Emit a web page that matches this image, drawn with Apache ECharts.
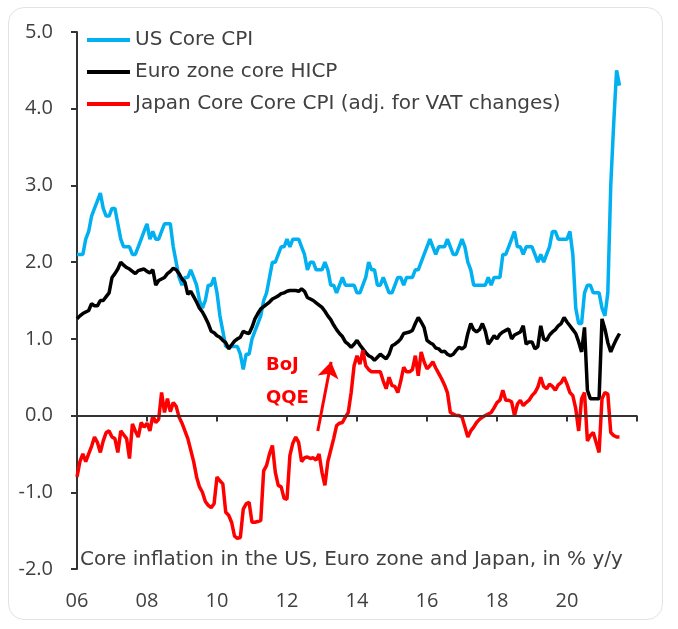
<!DOCTYPE html>
<html><head><meta charset="utf-8">
<script src="https://cdn.jsdelivr.net/npm/echarts@6/dist/echarts.min.js"></script>
<style>
html,body{margin:0;padding:0;background:#fff;}
#frame{position:absolute;left:8px;top:7px;width:655px;height:613px;border:1px solid #dfe4e9;border-radius:16px;box-sizing:border-box;}
#chart{position:absolute;left:0;top:0;width:678px;height:629px;}
</style></head><body>
<div id="frame"></div><div id="chart"></div>
<script>
const startYear = 2006;
const seriesNames = ['US Core CPI', 'Euro zone core HICP', 'Japan Core Core CPI (adj. for VAT changes)'];
const xTicks = [2006, 2008, 2010, 2012, 2014, 2016, 2018, 2020];
const xMin = 2006, xMax = 2022, xStep = 2;
const chartNote = 'Core inflation in the US, Euro zone and Japan, in % y/y';
const annotations = [{name: 'BoJ', x: 2011.4, y: 0.66}, {name: 'QQE', x: 2011.4, y: 0.23}];
const arrowFrom = [2012.88, -0.2];
const arrowTo = [2013.26, 0.70];

// monthly, Jan 2006 - Jul 2021
const usCore = [
 2.1,2.1,2.1,2.3,2.4,2.6,2.7,2.8,2.9,2.7,2.6,2.6,
 2.7,2.7,2.5,2.3,2.2,2.2,2.2,2.1,2.1,2.2,2.3,2.4,
 2.5,2.3,2.4,2.3,2.3,2.4,2.5,2.5,2.5,2.2,2.0,1.8,
 1.7,1.8,1.8,1.9,1.8,1.7,1.5,1.4,1.5,1.7,1.7,1.8,
 1.6,1.3,1.1,0.9,0.9,0.9,0.9,0.9,0.8,0.6,0.8,0.8,
 1.0,1.1,1.2,1.3,1.5,1.6,1.8,2.0,2.0,2.1,2.2,2.2,
 2.3,2.2,2.3,2.3,2.3,2.2,2.1,1.9,2.0,2.0,1.9,1.9,
 1.9,2.0,1.9,1.7,1.7,1.6,1.7,1.8,1.7,1.7,1.7,1.7,
 1.6,1.6,1.7,1.8,2.0,1.9,1.9,1.7,1.7,1.8,1.7,1.6,
 1.6,1.7,1.8,1.8,1.7,1.8,1.8,1.8,1.9,1.9,2.0,2.1,
 2.2,2.3,2.2,2.1,2.2,2.2,2.2,2.3,2.2,2.1,2.1,2.2,
 2.3,2.2,2.0,1.9,1.7,1.7,1.7,1.7,1.7,1.8,1.7,1.8,
 1.8,1.8,2.1,2.1,2.2,2.3,2.4,2.2,2.2,2.1,2.2,2.2,
 2.2,2.1,2.0,2.1,2.0,2.1,2.2,2.4,2.4,2.3,2.3,2.3,
 2.3,2.4,2.1,1.4,1.2,1.2,1.6,1.7,1.7,1.6,1.6,1.6,
 1.4,1.3,1.6,3.0,3.8,4.5,4.3
];
const euroCore = [
 1.26,1.30,1.33,1.35,1.37,1.46,1.43,1.43,1.50,1.50,1.55,1.60,
 1.80,1.85,1.91,2.00,1.96,1.93,1.91,1.88,1.85,1.89,1.90,1.91,
 1.88,1.86,1.90,1.70,1.76,1.78,1.80,1.85,1.88,1.92,1.90,1.85,
 1.78,1.74,1.58,1.62,1.55,1.48,1.40,1.35,1.28,1.20,1.10,1.08,
 1.04,1.02,0.98,0.95,0.87,0.92,0.97,1.00,1.02,1.10,1.08,1.07,
 1.15,1.26,1.33,1.39,1.42,1.45,1.48,1.52,1.54,1.56,1.59,1.60,
 1.62,1.63,1.63,1.63,1.62,1.65,1.62,1.54,1.52,1.50,1.47,1.44,
 1.41,1.36,1.30,1.25,1.18,1.12,1.07,1.03,0.96,0.93,0.89,0.93,
 0.98,0.92,0.87,0.82,0.78,0.76,0.72,0.76,0.80,0.77,0.74,0.80,
 0.91,0.93,0.96,1.00,1.07,1.08,1.09,1.11,1.20,1.28,1.22,1.15,
 0.98,0.95,0.93,0.88,0.87,0.83,0.84,0.80,0.78,0.80,0.85,0.89,
 0.87,0.90,1.07,1.20,1.12,1.09,1.12,1.20,1.10,0.93,0.98,1.04,
 1.00,1.06,1.09,1.11,1.13,1.00,1.05,1.07,1.09,1.17,0.93,0.96,
 0.96,0.87,0.90,1.17,1.00,0.98,1.05,1.09,1.12,1.17,1.20,1.28,
 1.22,1.17,1.12,1.07,0.96,0.83,1.15,0.33,0.22,0.22,0.22,0.22,
 1.26,1.13,0.95,0.83,0.92,1.00,1.07
];
const japanCore = [
 -0.80,-0.60,-0.50,-0.60,-0.50,-0.40,-0.28,-0.35,-0.48,-0.33,-0.22,-0.20,
 -0.28,-0.30,-0.48,-0.20,-0.25,-0.30,-0.56,-0.11,-0.20,-0.28,-0.09,-0.15,
 -0.10,-0.20,0.00,-0.09,-0.05,0.30,0.04,0.22,0.05,0.17,0.12,-0.02,
 -0.10,-0.20,-0.30,-0.45,-0.60,-0.80,-0.93,-1.00,-1.12,-1.17,-1.20,-1.15,
 -0.80,-0.85,-0.89,-1.26,-1.30,-1.39,-1.57,-1.60,-1.59,-1.22,-1.15,-1.13,
 -1.39,-1.39,-1.38,-1.37,-0.72,-0.65,-0.50,-0.39,-0.74,-0.91,-0.93,-1.08,
 -1.09,-0.52,-0.36,-0.28,-0.35,-0.60,-0.55,-0.54,-0.56,-0.55,-0.58,-0.50,
 -0.74,-0.91,-0.60,-0.45,-0.30,-0.13,-0.10,-0.09,-0.02,0.04,0.30,0.65,
 0.78,0.67,0.85,0.65,0.60,0.57,0.57,0.57,0.57,0.45,0.35,0.50,
 0.39,0.38,0.30,0.45,0.63,0.57,0.57,0.60,0.78,0.52,0.83,0.70,
 0.61,0.65,0.70,0.62,0.55,0.48,0.40,0.30,0.04,0.02,0.00,0.00,
 -0.02,-0.15,-0.28,-0.20,-0.15,-0.09,-0.05,-0.02,0.00,0.02,0.04,0.10,
 0.17,0.20,0.33,0.20,0.20,0.18,0.00,0.15,0.20,0.13,0.17,0.20,
 0.26,0.30,0.37,0.50,0.38,0.35,0.41,0.38,0.33,0.40,0.43,0.50,
 0.41,0.30,0.26,0.09,-0.20,0.22,0.30,-0.33,-0.26,-0.22,-0.35,-0.48,
 0.22,0.30,0.28,-0.22,-0.26,-0.28,-0.28
];

const FONT = 'DejaVu Sans';
const AXFONT = 'Open Sans';
const TXT = '#404040';
const AXIS = '#333333';
const TICK_LEN = 0.078; // ~6px below the zero line
function toPoints(arr){ return arr.map((v,i)=>[startYear + i/12, v]); }

// zero line with its tick marks, drawn in data space
const zeroAxisLines = [{yAxis: 0}];
for (let yr = xMin + xStep; yr <= xMax; yr += xStep) {
  zeroAxisLines.push([{coord: [yr, 0]}, {coord: [yr, -TICK_LEN]}]);
}

const chart = echarts.init(document.getElementById('chart'), null, {renderer:'canvas'});
chart.setOption({
  animation: false,
  backgroundColor: 'transparent',
  textStyle: {fontFamily: AXFONT},
  grid: {left: 77, right: 41, top: 32, bottom: 60, containLabel: false},
  title: {text: chartNote, left: 75, top: 545,
    textStyle: {fontFamily: FONT, fontSize: 20, fontWeight: 'normal', color: TXT}},
  legend: {
    orient: 'vertical', left: 87, top: 29, padding: 0, itemWidth: 43, itemHeight: 4, itemGap: 10,
    icon: 'rect', data: seriesNames,
    textStyle: {fontFamily: FONT, fontSize: 20, color: TXT, lineHeight: 22}
  },
  xAxis: {type: 'value', min: xMin, max: xMax, interval: xStep, position: 'bottom',
    axisLine: {show: false}, axisTick: {show: false}, splitLine: {show: false},
    axisLabel: {margin: 22, fontSize: 20, color: TXT, fontFamily: AXFONT,
      formatter: v => xTicks.indexOf(v) >= 0 ? String(v % 100).padStart(2, '0') : ''}},
  yAxis: {type: 'value', min: -2, max: 5, interval: 1,
    axisLine: {show: true, lineStyle: {color: AXIS, width: 2}},
    axisTick: {show: true, length: 6, lineStyle: {color: AXIS, width: 2}},
    splitLine: {show: false},
    axisLabel: {margin: 24, fontSize: 20, color: TXT, fontFamily: AXFONT, formatter: v => v.toFixed(1)}},
  series: [
    {name: seriesNames[0], type: 'line', data: toPoints(usCore), showSymbol: false,
      lineStyle: {color: '#00b0f0', width: 3.5}, itemStyle: {color: '#00b0f0'},
      markLine: {silent: true, symbol: ['none', 'none'], label: {show: false},
        emphasis: {disabled: true},
        lineStyle: {color: AXIS, width: 2, type: 'solid', opacity: 1}, data: zeroAxisLines}},
    {name: seriesNames[1], type: 'line', data: toPoints(euroCore), showSymbol: false,
      lineStyle: {color: '#000000', width: 3.5}, itemStyle: {color: '#000000'}},
    {name: seriesNames[2], type: 'line', data: toPoints(japanCore), showSymbol: false,
      lineStyle: {color: '#ff0000', width: 3.5}, itemStyle: {color: '#ff0000'},
      markPoint: {symbol: 'circle', symbolSize: 0, silent: true,
        label: {show: true, position: 'right', distance: 0, formatter: '{b}', color: '#ff0000',
          fontFamily: FONT, fontSize: 18, fontWeight: 'bold'},
        data: annotations.map(a => ({name: a.name, coord: [a.x, a.y]}))},
      markLine: {silent: true, symbol: ['none', 'arrow'], symbolSize: 16,
        label: {show: false},
        lineStyle: {color: '#ff0000', width: 3, type: 'solid'},
        data: [[{coord: arrowFrom}, {coord: arrowTo}]]}}
  ]
});
</script>
</body></html>
